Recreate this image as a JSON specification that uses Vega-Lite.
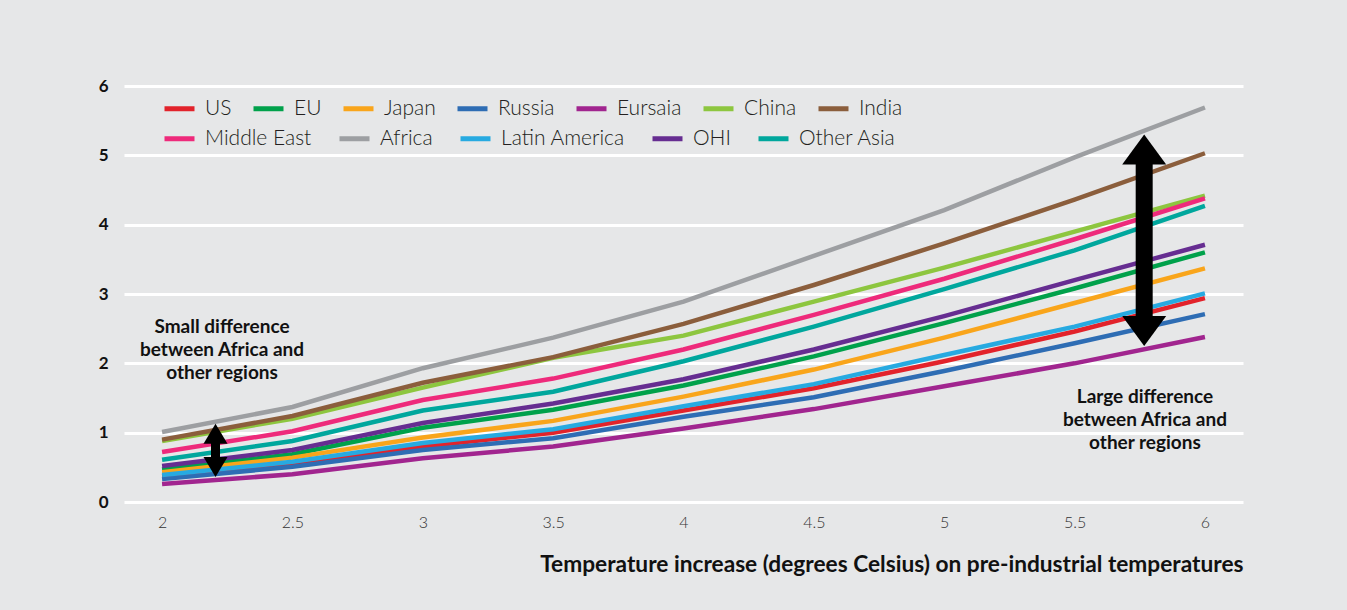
{
  "$schema": "https://vega.github.io/schema/vega-lite/v6.json",
  "width": 1119,
  "height": 416,
  "autosize": {"type": "none"},
  "padding": {"left": 124, "top": 86, "right": 104, "bottom": 108},
  "background": "#e6e7e8",
  "config": {"view": {"stroke": null}, "font": "Lato"},
  "resolve": {"scale": {"color": "independent"}},
  "datasets": {
    "series": [
      {"temp": 2, "US": 0.37, "EU": 0.47, "Japan": 0.43, "Russia": 0.33, "Eursaia": 0.26, "China": 0.88, "India": 0.90, "Middle East": 0.72, "Africa": 1.01, "Latin America": 0.39, "OHI": 0.52, "Other Asia": 0.61},
      {"temp": 2.5, "US": 0.55, "EU": 0.69, "Japan": 0.64, "Russia": 0.51, "Eursaia": 0.40, "China": 1.20, "India": 1.24, "Middle East": 1.02, "Africa": 1.37, "Latin America": 0.58, "OHI": 0.75, "Other Asia": 0.88},
      {"temp": 3, "US": 0.80, "EU": 1.07, "Japan": 0.93, "Russia": 0.75, "Eursaia": 0.63, "China": 1.65, "India": 1.72, "Middle East": 1.47, "Africa": 1.93, "Latin America": 0.85, "OHI": 1.14, "Other Asia": 1.32},
      {"temp": 3.5, "US": 1.00, "EU": 1.33, "Japan": 1.17, "Russia": 0.92, "Eursaia": 0.80, "China": 2.08, "India": 2.09, "Middle East": 1.78, "Africa": 2.37, "Latin America": 1.05, "OHI": 1.42, "Other Asia": 1.59},
      {"temp": 4, "US": 1.32, "EU": 1.68, "Japan": 1.52, "Russia": 1.23, "Eursaia": 1.06, "China": 2.40, "India": 2.57, "Middle East": 2.20, "Africa": 2.89, "Latin America": 1.38, "OHI": 1.77, "Other Asia": 2.03},
      {"temp": 4.5, "US": 1.64, "EU": 2.10, "Japan": 1.91, "Russia": 1.51, "Eursaia": 1.34, "China": 2.89, "India": 3.13, "Middle East": 2.70, "Africa": 3.55, "Latin America": 1.70, "OHI": 2.20, "Other Asia": 2.53},
      {"temp": 5, "US": 2.03, "EU": 2.58, "Japan": 2.37, "Russia": 1.89, "Eursaia": 1.67, "China": 3.38, "India": 3.73, "Middle East": 3.22, "Africa": 4.21, "Latin America": 2.12, "OHI": 2.68, "Other Asia": 3.07},
      {"temp": 5.5, "US": 2.46, "EU": 3.08, "Japan": 2.87, "Russia": 2.29, "Eursaia": 2.00, "China": 3.90, "India": 4.36, "Middle East": 3.79, "Africa": 4.97, "Latin America": 2.53, "OHI": 3.20, "Other Asia": 3.63},
      {"temp": 6, "US": 2.94, "EU": 3.60, "Japan": 3.37, "Russia": 2.71, "Eursaia": 2.38, "China": 4.42, "India": 5.03, "Middle East": 4.38, "Africa": 5.69, "Latin America": 3.01, "OHI": 3.71, "Other Asia": 4.27}
    ],
    "arrows": [
      {"id": "small", "temp": 2.205, "tipTop": 1.13, "tipBottom": 0.36, "shaftTop": 0.88, "shaftBottom": 0.61},
      {"id": "large", "temp": 5.767, "tipTop": 5.30, "tipBottom": 2.25, "shaftTop": 4.90, "shaftBottom": 2.65}
    ],
    "notes": [
      {"temp": 2.23, "value": 2.66, "label": ["Small difference", "between Africa and", "other regions"]},
      {"temp": 5.77, "value": 1.65, "label": ["Large difference", "between Africa and", "other regions"]}
    ]
  },
  "layer": [
    {
      "data": {"name": "series"},
      "transform": [
        {"fold": ["US", "EU", "Japan", "Russia", "Eursaia", "China", "India"], "as": ["region", "value"]}
      ],
      "mark": {"type": "line", "strokeWidth": 4.5, "clip": false},
      "encoding": {
        "x": {
          "field": "temp", "type": "quantitative",
          "scale": {"domain": [1.854, 6.146], "nice": false, "zero": false},
          "axis": {
            "values": [2, 2.5, 3, 3.5, 4, 4.5, 5, 5.5, 6], "format": "~g",
            "grid": false, "domain": false, "ticks": false,
            "labelFontSize": 16, "labelFontWeight": 300, "labelColor": "#333333", "labelPadding": 12,
            "title": "Temperature increase (degrees Celsius) on pre-industrial temperatures",
            "titleAnchor": "end", "titleFontSize": 22.7, "titleFontWeight": "bold", "titleColor": "#111111", "titlePadding": 23
          }
        },
        "y": {
          "field": "value", "type": "quantitative",
          "scale": {"domain": [0, 6], "nice": false},
          "axis": {
            "values": [0, 1, 2, 3, 4, 5, 6], "format": "d", "title": null,
            "grid": true, "gridColor": "#ffffff", "gridWidth": 3, "gridOpacity": 1,
            "domain": false, "ticks": false,
            "labelFontSize": 17, "labelFontWeight": "bold", "labelColor": "#111111", "labelPadding": 16
          }
        },
        "color": {
          "field": "region", "type": "nominal",
          "scale": {
            "domain": ["US", "EU", "Japan", "Russia", "Eursaia", "China", "India"],
            "range": ["#e2232b", "#00a14b", "#f9a51b", "#2e6db4", "#a1258f", "#8dc63f", "#8b5e3c"]
          },
          "legend": {
            "title": null, "orient": "none", "legendX": 38, "legendY": 5,
            "direction": "horizontal", "columns": 7,
            "symbolType": "stroke", "symbolSize": 900, "symbolStrokeWidth": 5,
            "labelFontSize": 21, "labelFont": "Lato", "labelFontWeight": 300, "labelColor": "#231f20",
            "columnPadding": 11, "labelOffset": 8
          }
        }
      }
    },
    {
      "data": {"name": "series"},
      "transform": [
        {"fold": ["Middle East", "Africa", "Latin America", "OHI", "Other Asia"], "as": ["region", "value"]}
      ],
      "mark": {"type": "line", "strokeWidth": 4.5, "clip": false},
      "encoding": {
        "x": {"field": "temp", "type": "quantitative"},
        "y": {"field": "value", "type": "quantitative"},
        "color": {
          "field": "region", "type": "nominal",
          "scale": {
            "domain": ["Middle East", "Africa", "Latin America", "OHI", "Other Asia"],
            "range": ["#ee2a7b", "#9d9fa2", "#27aae1", "#662d91", "#00a79d"]
          },
          "legend": {
            "title": null, "orient": "none", "legendX": 38, "legendY": 35,
            "direction": "horizontal", "columns": 5,
            "symbolType": "stroke", "symbolSize": 900, "symbolStrokeWidth": 5,
            "labelFontSize": 21, "labelFont": "Lato", "labelFontWeight": 300, "labelColor": "#231f20",
            "columnPadding": 17, "labelOffset": 8
          }
        }
      }
    },
    {
      "data": {"name": "arrows"},
      "transform": [{"filter": "datum.id === 'small'"}],
      "mark": {"type": "rule", "color": "#000000", "strokeWidth": 9},
      "encoding": {
        "x": {"field": "temp", "type": "quantitative"},
        "y": {"field": "shaftTop", "type": "quantitative"},
        "y2": {"field": "shaftBottom"}
      }
    },
    {
      "data": {"name": "arrows"},
      "transform": [{"filter": "datum.id === 'large'"}],
      "mark": {"type": "rule", "color": "#000000", "strokeWidth": 17},
      "encoding": {
        "x": {"field": "temp", "type": "quantitative"},
        "y": {"field": "shaftTop", "type": "quantitative"},
        "y2": {"field": "shaftBottom"}
      }
    },
    {
      "data": {"name": "arrows"},
      "transform": [{"filter": "datum.id === 'small'"}],
      "mark": {"type": "point", "shape": "M0,0L-1,1.67L1,1.67Z", "size": 576, "filled": true, "opacity": 1, "color": "#000000", "strokeWidth": 0},
      "encoding": {
        "x": {"field": "temp", "type": "quantitative"},
        "y": {"field": "tipTop", "type": "quantitative"}
      }
    },
    {
      "data": {"name": "arrows"},
      "transform": [{"filter": "datum.id === 'small'"}],
      "mark": {"type": "point", "shape": "M0,0L-1,-1.67L1,-1.67Z", "size": 576, "filled": true, "opacity": 1, "color": "#000000", "strokeWidth": 0},
      "encoding": {
        "x": {"field": "temp", "type": "quantitative"},
        "y": {"field": "tipBottom", "type": "quantitative"}
      }
    },
    {
      "data": {"name": "arrows"},
      "transform": [{"filter": "datum.id === 'large'"}],
      "mark": {"type": "point", "shape": "M0,0L-1,1.36L1,1.36Z", "size": 1936, "filled": true, "opacity": 1, "color": "#000000", "strokeWidth": 0},
      "encoding": {
        "x": {"field": "temp", "type": "quantitative"},
        "y": {"field": "tipTop", "type": "quantitative"}
      }
    },
    {
      "data": {"name": "arrows"},
      "transform": [{"filter": "datum.id === 'large'"}],
      "mark": {"type": "point", "shape": "M0,0L-1,-1.36L1,-1.36Z", "size": 1936, "filled": true, "opacity": 1, "color": "#000000", "strokeWidth": 0},
      "encoding": {
        "x": {"field": "temp", "type": "quantitative"},
        "y": {"field": "tipBottom", "type": "quantitative"}
      }
    },
    {
      "data": {"name": "notes"},
      "mark": {"type": "text", "font": "Lato", "fontWeight": "bold", "fontSize": 19, "lineHeight": 23.3, "align": "center", "baseline": "top", "color": "#111111"},
      "encoding": {
        "x": {"field": "temp", "type": "quantitative"},
        "y": {"field": "value", "type": "quantitative"},
        "text": {"field": "label"}
      }
    }
  ]
}
